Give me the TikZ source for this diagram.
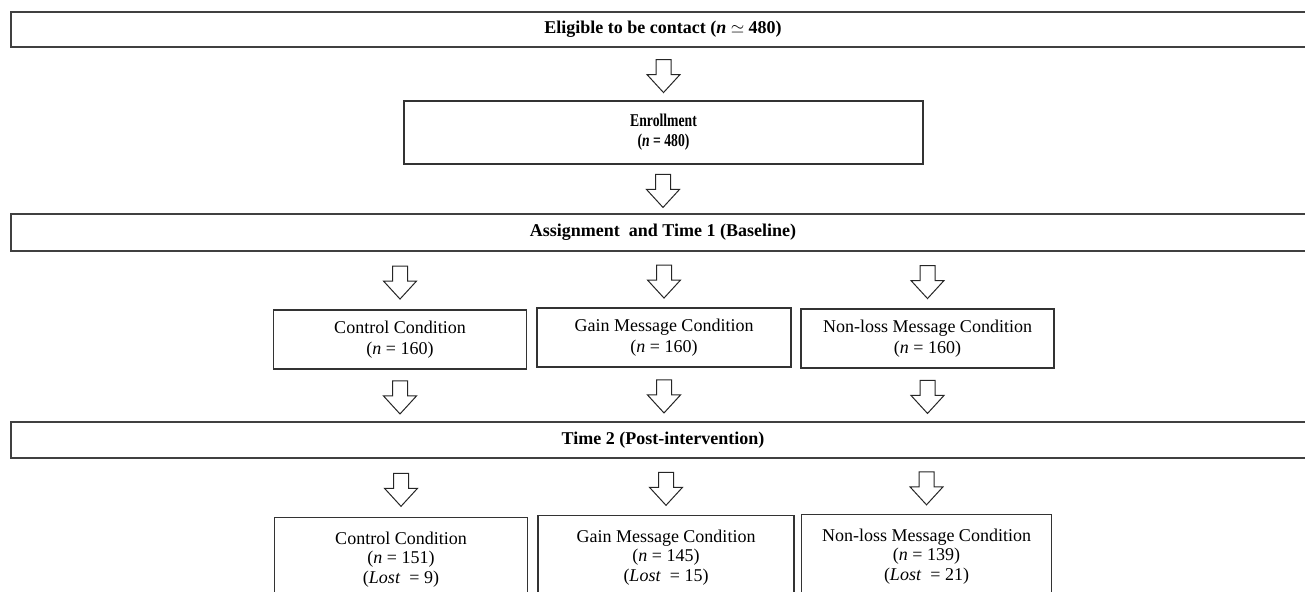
\documentclass[tikz,border=0pt]{standalone}
\usepackage{fontspec}
\setmainfont{Liberation Serif}
\usepackage{graphicx}
\usetikzlibrary{calc}
\newcommand{\hd}[1]{\scalebox{0.76}[1]{\bfseries #1}}
\tikzset{x=1pt, y=-1pt,
widebox/.style={ % full-width stage bars
draw=black!75,
line width=1.3pt,
minimum width=1304pt,
inner sep=0pt,
font=\fontsize{18}{20}\selectfont\bfseries},
enrolbox/.style={
draw=black!80,
line width=1.1pt,
minimum width=519pt,
minimum height=63pt,
align=center,
font=\fontsize{18}{20}\selectfont},
condbox/.style={ % one box per condition
draw=black!80,
line width=1.1pt,
minimum width=253pt,
minimum height=59pt,
align=center,
font=\fontsize{18}{21}\selectfont},
lostbox/.style={
condbox,
anchor=north,
inner ysep=14pt,
font=\fontsize{18}{19.5}\selectfont},
blockarr/.pic={
\draw[black!85, line width=1pt, fill=white] (-7.5,-16.5) -- (-7.5,-1.5) -- (-16.5,-1.5)
 -- (0,16.5) -- (16.5,-1.5) -- (7.5,-1.5) -- (7.5,-16.5) -- cycle;}}
% arrow under the wide box, in line with the box below it
\newcommand{\flow}[2]{\pic at ($(#1.south -| #2.north)!0.5!(#2.north)+(0,2)$) {blockarr};}
% arrow under a narrow box, down to the wide box
\newcommand{\flowup}[2]{\pic at ($(#1.south)!0.5!(#2.north -| #1.south)+(0,2)$) {blockarr};}

\begin{document}
\begin{tikzpicture}
	\useasboundingbox (0,0) rectangle (1305,591);
	\clip (0,0) rectangle (1305,591);
	\node[widebox, minimum height=35pt] (elig) at (663,29.5) {Eligible to be contact (\textit{n} $\simeq$ 480)};
	\node[enrolbox] (enrol) at (663.5,132.5) {\hd{Enrollment}\\\hd{(\textit{n} = 480)}};
	\node[widebox, minimum height=37pt] (assign) at (663,232.5) {Assignment \ and Time 1 (Baseline)};
	\node[condbox] (ctlA) at (400,339.5) {Control Condition\\(\textit{n} = 160)};
	\node[condbox, minimum width=254pt] (gainA) at (664,337.5) {Gain Message Condition\\(\textit{n} = 160)};
	\node[condbox] (nlA) at (927.5,338.5) {Non-loss Message Condition\\(\textit{n} = 160)};
	\node[widebox, minimum height=36pt] (time2) at (663,440) {Time 2 (Post-intervention)};
	\node[lostbox] (ctlB) at (401,517) {Control Condition\\(\textit{n} = 151)\\(\textit{Lost} \ = 9)};
	\node[lostbox, minimum width=256pt] (gainB) at (666,515) {Gain Message Condition\\(\textit{n} = 145)\\(\textit{Lost} \ = 15)};
	\node[lostbox, minimum width=250pt] (nlB) at (926.5,514) {Non-loss Message Condition\\(\textit{n} = 139)\\(\textit{Lost} \ = 21)};
	\flow{elig}{enrol}
	\flow{enrol}{assign}
	\flow{assign}{ctlA}
	\flow{assign}{gainA}
	\flow{assign}{nlA}
	\flowup{ctlA}{time2}
	\flowup{gainA}{time2}
	\flowup{nlA}{time2}
	\flow{time2}{ctlB}
	\flow{time2}{gainB}
	\flow{time2}{nlB}
\end{tikzpicture}
\end{document}
